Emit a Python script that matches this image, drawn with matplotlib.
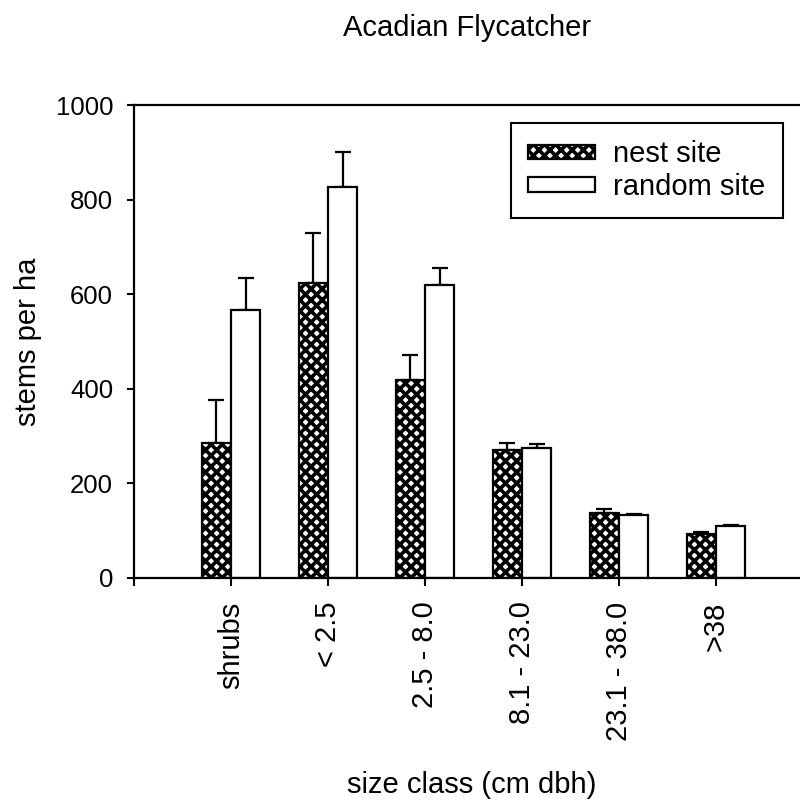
import matplotlib
matplotlib.use('Agg')
import matplotlib.pyplot as plt
import numpy as np

plt.rcParams['font.family'] = ['Liberation Sans', 'DejaVu Sans']
plt.rcParams['hatch.linewidth'] = 2.6
plt.rcParams['hatch.color'] = 'black'

# data
categories = ['shrubs', '< 2.5', '2.5 - 8.0', '8.1 - 23.0', '23.1 - 38.0', '>38']
nest_mean = [285, 624, 419, 271, 137, 93]
nest_top = [376, 729, 471, 285, 146, 98]
random_mean = [567, 826, 619, 275, 133, 110]
random_top = [634, 900, 655, 283, 136, 113]

nest_err = np.array(nest_top) - np.array(nest_mean)
random_err = np.array(random_top) - np.array(random_mean)

fig = plt.figure(figsize=(8.0, 8.11), dpi=100)
ax = fig.add_axes([0.1675, 0.2873, 0.8325, 0.5832])

x = np.arange(len(categories))
w = 0.3

ax.bar(x - w / 2, nest_mean, w, facecolor='white', edgecolor='black',
       linewidth=1.6, hatch='xxx', label='nest site', zorder=2)
ax.bar(x + w / 2, random_mean, w, facecolor='white', edgecolor='black',
       linewidth=1.6, label='random site', zorder=2)

err_kw = dict(fmt='none', ecolor='black', elinewidth=1.6, capsize=6,
              capthick=1.6, zorder=1)
ax.errorbar(x - w / 2, nest_mean, yerr=[np.zeros(len(x)), nest_err], **err_kw)
ax.errorbar(x + w / 2, random_mean, yerr=[np.zeros(len(x)), random_err], **err_kw)

ax.set_xlim(-1, 5.866)
ax.set_ylim(0, 1000)
ax.set_yticks(np.arange(0, 1001, 200))
ax.set_xticks(np.arange(-1, len(categories)))
ax.set_xticklabels([''] + categories, rotation=90, va='top', fontsize=21)
ax.tick_params(axis='y', labelsize=18.5, length=5, width=1.5, pad=10)
ax.tick_params(axis='x', length=6, width=1.5, pad=11)

ax.spines['right'].set_visible(False)
for s in ['left', 'bottom', 'top']:
    ax.spines[s].set_linewidth(1.6)

leg = ax.legend(loc='upper right', bbox_to_anchor=(0.974, 0.962),
                borderaxespad=0, fancybox=False, framealpha=1,
                edgecolor='black', fontsize=21, handlelength=2.3,
                handleheight=0.4, borderpad=0.6, labelspacing=0.15,
                handletextpad=0.6)
leg.get_frame().set_linewidth(1.5)

fig.text(0.584, 0.966, 'Acadian Flycatcher', ha='center', va='center', fontsize=21)
fig.text(0.035, 0.579, 'stems per ha', rotation=90, ha='center', va='center', fontsize=21)
fig.text(0.59, 0.032, 'size class (cm dbh)', ha='center', va='center', fontsize=21)

plt.savefig('out.png', dpi=100, facecolor='white')
plt.close()
